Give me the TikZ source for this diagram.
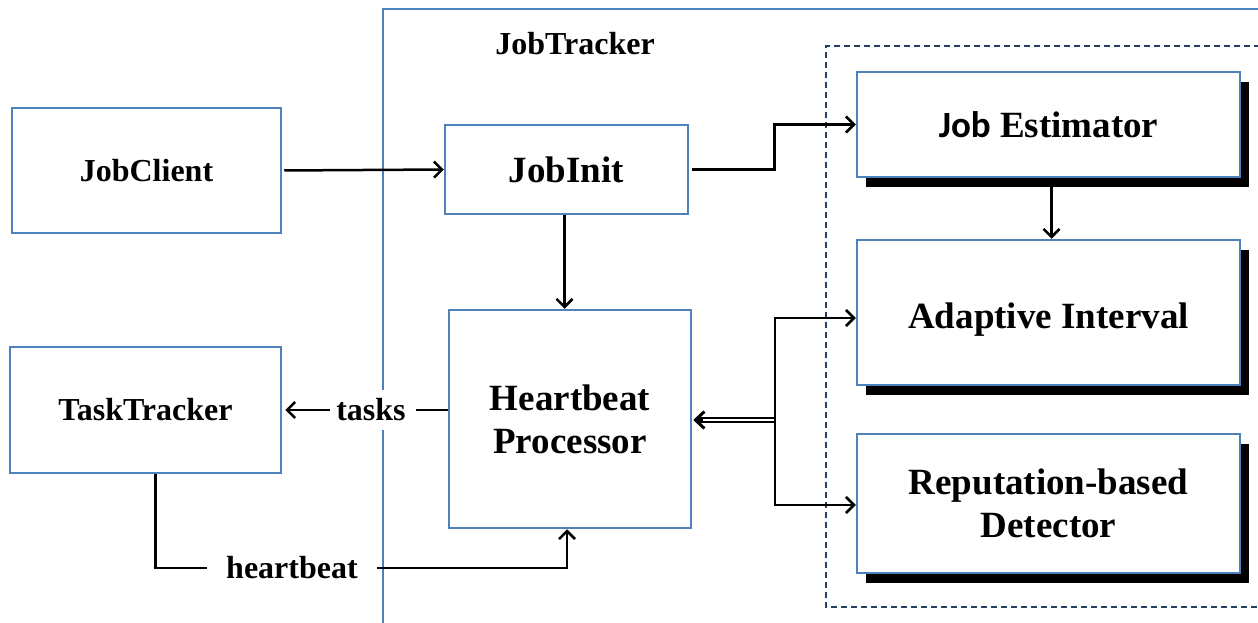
\documentclass[tikz,border=0pt]{standalone}
\usepackage{fontspec}
\setmainfont{Liberation Serif}
\newfontfamily\carl{Carlito}
\usetikzlibrary{arrows.meta,shadows,calc}
\definecolor{boxblue}{RGB}{79,129,189}
\definecolor{dashblue}{RGB}{36,63,96}
\begin{document}
\begin{tikzpicture}[x=1pt,y=-1pt,line width=2.5pt,
  box/.style={draw=boxblue, line width=2.5pt, fill=white, inner sep=0pt, align=center,
     font=\bfseries\fontsize{32}{37}\selectfont},
  bigbox/.style={box, font=\bfseries\fontsize{37}{43}\selectfont},
  sbox/.style={bigbox, drop shadow={shadow xshift=9pt, shadow yshift=-10pt, fill=black, opacity=1}},
  lbl/.style={fill=white, inner xsep=5pt, inner ysep=9pt, font=\bfseries\fontsize{32}{37}\selectfont},
  arr/.style={-{Straight Barb[length=8pt,width=16pt]}, line width=2.5pt}]
\useasboundingbox (0,0) rectangle (1258,623);
% JobTracker container
\draw[boxblue, line width=2.5pt] (383,625) -- (383,9) -- (1260,9);
\node[font=\bfseries\fontsize{32}{37}\selectfont] (jt) at (575,44) {JobTracker};
% dashed region
\draw[dashblue, line width=2.3pt, dash pattern=on 6pt off 4pt] (1260,46) -- (826,46) -- (826,607) -- (1260,607);
% boxes
\node[box, minimum width=269pt, minimum height=125pt] (jc) at (146.5,170.5) {JobClient};
\node[box, minimum width=271pt, minimum height=126pt] (tt) at (145.5,410) {TaskTracker};
\node[bigbox, minimum width=243pt, minimum height=89pt] (ji) at (566.5,169.5) {JobInit};
\node[bigbox, minimum width=242pt, minimum height=218pt] (hp) at (570,419) {Heartbeat\\Processor};
\node[sbox, minimum width=383pt, minimum height=105pt] (je) at (1048.5,124.5) {{\carl Job} Estimator};
\node[sbox, minimum width=383pt, minimum height=145pt, text height=31pt, text depth=0pt] (ai) at (1048.5,312.5) {Adaptive Interval};
\node[sbox, minimum width=383pt, minimum height=139pt] (rd) at (1048.5,503.5) {Reputation-based\\Detector};
% labels
\node[lbl] (tasks) at (371,410) {tasks};
\node[lbl, inner xsep=18pt] (hb) at (292,568) {heartbeat};
\coordinate (br) at (775,420);
% connectors
\draw[arr, shorten <=2pt] (jc.east) -- (ji.west);
\draw[arr, shorten <=3pt] (ji.east) -- ++(85,0) |- (je.west);
\draw[arr] ([xshift=3pt]je.south) -- ([xshift=3pt]ai.north);
\draw[arr] ([xshift=-2pt]ji.south) -- ([xshift=-2pt]ji.south |- hp.north);
\draw[arr] (br) |- ([yshift=-5.5pt]ai.west);
\draw[arr] (br) |- ([yshift=-1.5pt]rd.west);
% double connector into Heartbeat Processor
\draw[line width=2.2pt] ([yshift=1.7pt]br) -- ([yshift=1.7pt,xshift=5pt]br -| hp.east);
\draw[line width=2.2pt] ([yshift=-1.7pt]br) -- ([yshift=-1.7pt,xshift=5pt]br -| hp.east);
\draw[-{Straight Barb[length=9pt,width=17pt]}, line width=3pt] ([xshift=11pt]br -| hp.east) -- ([xshift=1pt]br -| hp.east);
\draw[shorten >=4pt] (hp.west |- tasks.east) -- (tasks.east);
\draw[arr, shorten >=3pt] (tasks.west) -- (tt.east |- tasks.west);
\draw ([xshift=10pt]tt.south) |- (hb.west);
\draw[arr] (hb.east) -| ([xshift=-3pt]hp.south);
\end{tikzpicture}
\end{document}
